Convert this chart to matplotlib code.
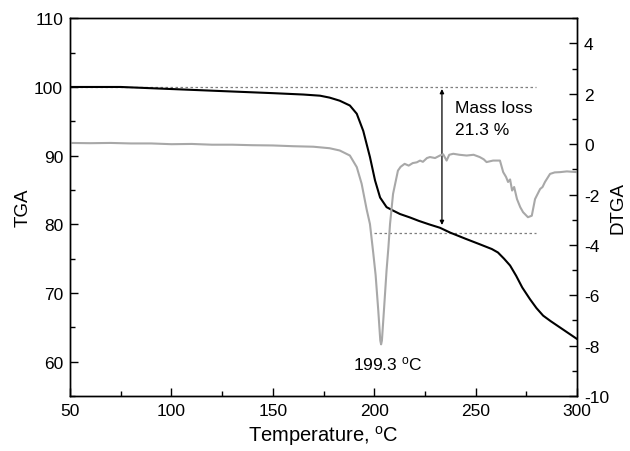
import matplotlib
matplotlib.use("Agg")
import matplotlib.pyplot as plt
from matplotlib.ticker import MultipleLocator

plt.rcParams['font.family'] = ['Liberation Sans', 'DejaVu Sans']
plt.rcParams['axes.unicode_minus'] = False
plt.rcParams['mathtext.default'] = 'regular'

# TGA (left axis)
tga_T = [50, 75, 100, 125, 150, 165, 173.3, 178, 183, 188, 191.4, 194.6, 197.9, 200.4,
         202.9, 206.1, 209.3, 212.7, 217.6, 222, 227, 232.4, 237.4, 245,
         252, 258, 261, 264, 267, 270, 273, 276.8, 280, 283.3, 287, 291, 295, 300]
tga_v = [100.0, 100.0, 99.7, 99.4, 99.1, 98.9, 98.73, 98.45, 98.0, 97.3, 96.1, 93.6, 89.8, 86.4,
         83.9, 82.5, 82.0, 81.5, 81.0, 80.5, 80.0, 79.5, 78.8, 77.9,
         77.1, 76.4, 75.9, 75.0, 74.0, 72.5, 70.8, 69.1, 67.8, 66.7, 65.9, 65.1, 64.3, 63.3]

# DTGA (right axis)
dtga_T = [50, 60, 70, 80, 90, 100, 110, 120, 130, 140, 150, 160, 170, 178, 183, 188, 191.4, 193.8,
          196.3, 197.9, 199.5, 200.7, 202.0, 203.0, 203.4, 203.8, 204.8, 206.1, 207.0, 207.8,
          209.3, 211.7, 213, 215, 217, 219, 221, 222.6, 224, 226, 227.5, 230, 232.4, 234, 235.7, 237,
          239, 242, 245.6, 249, 252, 254, 255.4, 258.6, 262, 263.6, 265, 266, 267, 268, 269,
          270.4, 272, 273.4, 275.8, 277.7, 279.3, 281.8, 283, 284.2, 286.7, 289, 291.6, 295, 300]
dtga_v = [0.05, 0.04, 0.05, 0.03, 0.03, 0.0, 0.01, -0.02, -0.02, -0.04, -0.05, -0.08, -0.1, -0.16,
          -0.25, -0.45, -0.91, -1.57,
          -2.6, -3.17, -4.3, -5.2, -6.6, -7.8, -7.95, -7.8, -6.6, -5.0, -4.1, -3.17,
          -1.97, -1.05, -0.9, -0.78, -0.85, -0.75, -0.72, -0.65, -0.7, -0.55, -0.51, -0.55, -0.45, -0.4,
          -0.65, -0.42, -0.38, -0.42, -0.45, -0.42, -0.51, -0.6, -0.71, -0.65, -0.65, -1.11, -1.3,
          -1.5, -1.4, -1.84, -1.7, -2.18, -2.5, -2.7, -2.9, -2.84, -2.18, -1.78, -1.7, -1.5,
          -1.18, -1.12, -1.11, -1.08, -1.11]

# reference lines / annotation values
initial_mass = 100.0
final_mass = 78.7
line_x_start_top = 50
line_x_start_low = 200
line_x_end = 280
arrow_T = 233.4
peak_label = r'199.3 $^{o}$C'
loss_lines = ['Mass loss', '21.3 %']

fig = plt.figure(figsize=(6.3, 4.52), dpi=100)
ax = fig.add_axes([0.1111, 0.1217, 0.8048, 0.8356])
ax2 = ax.twinx()

ax.plot(tga_T, tga_v, color='black', lw=1.5, zorder=3)
ax2.plot(dtga_T, dtga_v, color='#a8a8a8', lw=1.5, zorder=2)

ax.plot([line_x_start_top, line_x_end], [initial_mass, initial_mass], ls=(0, (2, 2)), color='#7f7f7f', lw=0.9)
ax.plot([line_x_start_low, line_x_end], [final_mass, final_mass], ls=(0, (2, 2)), color='#7f7f7f', lw=0.9)
ax.annotate('', xy=(arrow_T, 99.7), xytext=(arrow_T, 79.9),
            arrowprops=dict(arrowstyle='<|-|>', color='black', lw=0.9, mutation_scale=6,
                            shrinkA=0, shrinkB=0))
ax.text(239.8, 96.3, loss_lines[0], fontsize=12.5, va='baseline', ha='left')
ax.text(239.8, 93.15, loss_lines[1], fontsize=12.5, va='baseline', ha='left')
ax.text(206.8, 58.95, peak_label, fontsize=12.5, va='baseline', ha='center')

ax.set_xlim(50, 300)
ax.set_ylim(55, 110)
ax2.set_ylim(-10, 5)

ax.xaxis.set_major_locator(MultipleLocator(50))
ax.xaxis.set_minor_locator(MultipleLocator(25))
ax.yaxis.set_major_locator(MultipleLocator(10))
ax.yaxis.set_minor_locator(MultipleLocator(5))
ax2.yaxis.set_major_locator(MultipleLocator(2))
ax2.yaxis.set_minor_locator(MultipleLocator(1))

ax.set_yticks([60, 70, 80, 90, 100, 110])
ax2.set_yticks([-10, -8, -6, -4, -2, 0, 2, 4])

for a in (ax, ax2):
    a.tick_params(which='major', direction='in', length=5.5, width=1.0, labelsize=12.5, pad=5)
    a.tick_params(which='minor', direction='in', length=3.5, width=1.0)
    for s in a.spines.values():
        s.set_linewidth(1.0)
ax.tick_params(top=False, which='both')
ax2.tick_params(top=False, which='both')

ax.set_xlabel('Temperature, $^{o}$C', fontsize=14.5, labelpad=4)
ax.set_ylabel('TGA', fontsize=13.5, labelpad=2)
ax2.set_ylabel('DTGA', fontsize=13.5, labelpad=0.5)

fig.savefig('out.png', dpi=100)
